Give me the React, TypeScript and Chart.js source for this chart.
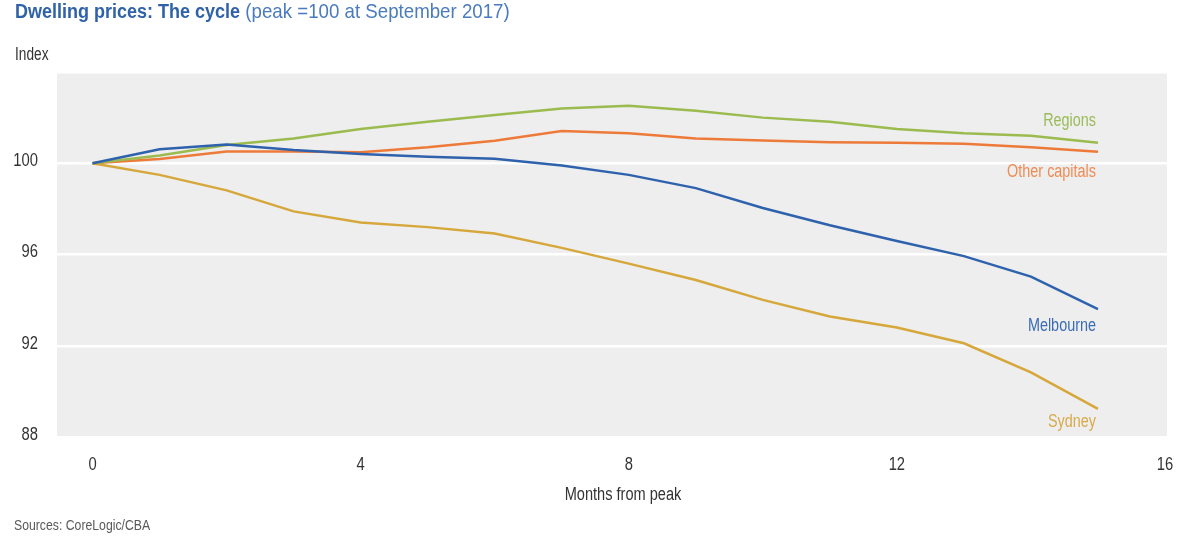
import React, { useEffect, useRef } from "react";
import { Chart, registerables } from "chart.js";

Chart.register(...registerables);

const months = [0, 1, 2, 3, 4, 5, 6, 7, 8, 9, 10, 11, 12, 13, 14, 15];
const melbourne = [100, 100.61, 100.82, 100.58, 100.41, 100.29, 100.2, 99.9, 99.49, 98.91, 98.04, 97.28, 96.59, 95.93, 95.03, 93.61];
const regions = [100, 100.34, 100.8, 101.09, 101.5, 101.82, 102.11, 102.4, 102.52, 102.3, 102.0, 101.82, 101.5, 101.31, 101.21, 100.9];
const otherCapitals = [100, 100.19, 100.51, 100.51, 100.48, 100.7, 100.99, 101.41, 101.31, 101.09, 101.0, 100.92, 100.9, 100.85, 100.7, 100.5];
const sydney = [100, 99.49, 98.81, 97.89, 97.4, 97.2, 96.92, 96.29, 95.6, 94.88, 94.01, 93.28, 92.8, 92.11, 90.83, 89.23];
const xTicks = [0, 4, 8, 12, 16];
const yTicks = [88, 92, 96, 100];

const FONT = "'Liberation Sans', Arial, Helvetica, sans-serif";
const SX = 0.8; // condensed look

const seriesDefs = [
  { label: "Melbourne", data: melbourne, color: "#2e62ad", text: "#3a6cb4", dy: 17 },
  { label: "Regions", data: regions, color: "#9bbb4f", text: "#9bbb59", dy: -22 },
  { label: "Other capitals", data: otherCapitals, color: "#ee7a3a", text: "#ef8c55", dy: 20 },
  { label: "Sydney", data: sydney, color: "#d6a73a", text: "#d8aa4a", dy: 13 },
];

function drawText(ctx: CanvasRenderingContext2D, text: string, x: number, y: number, align: CanvasTextAlign, sx: number) {
  ctx.save();
  ctx.translate(x, y);
  ctx.scale(sx, 1);
  ctx.textAlign = align;
  ctx.fillText(text, 0, 0);
  ctx.restore();
}

const decorPlugin = {
  id: "decor",
  beforeDraw(chart: any) {
    const { ctx, chartArea } = chart;
    ctx.save();
    ctx.fillStyle = "#eeeeee";
    ctx.fillRect(chartArea.left, chartArea.top, chartArea.right - chartArea.left, chartArea.bottom - chartArea.top);
    ctx.restore();
  },
  afterDraw(chart: any) {
    const { ctx } = chart;
    const xs = chart.scales.x;
    const ys = chart.scales.y;
    ctx.save();
    // title
    ctx.textBaseline = "alphabetic";
    ctx.font = `bold 20px ${FONT}`;
    ctx.fillStyle = "#2f62a8";
    const t1 = "Dwelling prices: The cycle";
    drawText(ctx, t1, 15, 18, "left", 0.9);
    const w1 = ctx.measureText(t1).width * 0.9;
    ctx.font = `21px ${FONT}`;
    ctx.fillStyle = "#4a7bbf";
    drawText(ctx, " (peak =100 at September 2017)", 15 + w1, 18, "left", 0.89);
    // Index
    ctx.font = `18px ${FONT}`;
    ctx.fillStyle = "#333333";
    drawText(ctx, "Index", 15, 60, "left", 0.76);
    // source
    ctx.font = `15.5px ${FONT}`;
    ctx.fillStyle = "#595959";
    drawText(ctx, "Sources: CoreLogic/CBA", 14, 530, "left", 0.79);
    // axis tick labels
    ctx.font = `18px ${FONT}`;
    ctx.fillStyle = "#333333";
    ctx.textBaseline = "middle";
    yTicks.forEach((v) => {
      drawText(ctx, String(v), 38, ys.getPixelForValue(v) - 2, "right", 0.82);
    });
    xTicks.forEach((v) => {
      drawText(ctx, String(v), xs.getPixelForValue(v), 465, "center", 0.82);
    });
    ctx.textBaseline = "alphabetic";
    drawText(ctx, "Months from peak", (xs.left + xs.right) / 2 + 11, 500, "center", 0.81);
    // series labels
    ctx.font = `18px ${FONT}`;
    ctx.textBaseline = "middle";
    chart.data.datasets.forEach((ds: any, i: number) => {
      const meta = chart.getDatasetMeta(i);
      const last = meta.data[meta.data.length - 1];
      const def = seriesDefs[i];
      ctx.fillStyle = def.text;
      drawText(ctx, ds.label, last.x - 2, last.y + def.dy, "right", 0.8);
    });
    ctx.restore();
  },
};

export default function App() {
  const ref = useRef<HTMLCanvasElement>(null);
  useEffect(() => {
    if (!ref.current) return;
    const chart = new Chart(ref.current, {
      type: "line",
      data: {
        datasets: seriesDefs.map((s) => ({
          label: s.label,
          data: months.map((m, i) => ({ x: m, y: s.data[i] })),
          borderColor: s.color,
          backgroundColor: s.color,
          borderWidth: 2.5,
          pointRadius: 0,
          tension: 0,
          fill: false,
        })),
      },
      options: {
        animation: false,
        responsive: false,
        devicePixelRatio: 1,
        layout: { padding: { left: 0, right: 33, top: 72, bottom: 0 } },
        plugins: { legend: { display: false }, tooltip: { enabled: false }, title: { display: false } },
        scales: {
          x: {
            type: "linear",
            min: -0.53,
            max: 16.03,
            afterBuildTicks: (scale: any) => {
              scale.ticks = xTicks.map((v) => ({ value: v }));
            },
            afterFit: (scale: any) => {
              scale.height = 103;
            },
            grid: { display: false, drawTicks: false },
            border: { display: false },
            ticks: { display: false },
          },
          y: {
            type: "linear",
            min: 88,
            max: 104,
            afterBuildTicks: (scale: any) => {
              scale.ticks = [...yTicks, 104].map((v) => ({ value: v }));
            },
            afterFit: (scale: any) => {
              scale.width = 57;
            },
            grid: { color: "#ffffff", lineWidth: 2.5, drawTicks: false },
            border: { display: false },
            ticks: { display: false },
          },
        },
      },
      plugins: [decorPlugin],
    });
    return () => chart.destroy();
  }, []);
  return (
    <div style={{ position: "fixed", left: 0, top: 0, width: 1200, height: 540, background: "#ffffff" }}>
      <canvas ref={ref} width={1200} height={540} style={{ width: 1200, height: 540 }} />
    </div>
  );
}
